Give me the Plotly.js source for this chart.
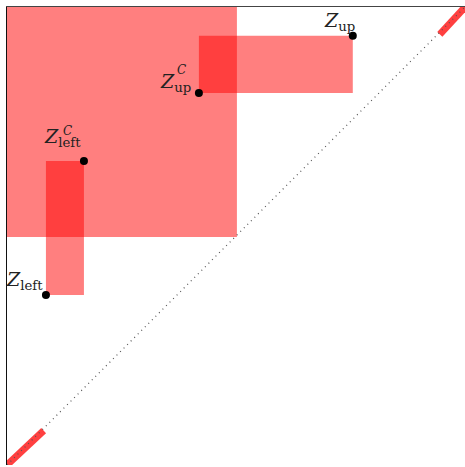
<!DOCTYPE html>
<html>
<head>
<meta charset="utf-8">
<script src="https://cdn.plot.ly/plotly-3.0.1.min.js"></script>
<style>html,body{margin:0;padding:0;background:#fff;}#chart{width:465px;height:467px;}</style>
</head>
<body>
<div id="chart"></div>
<script>
// Rectangles: [x0, x1, y0, y1]
var bigRect = [0.0, 0.502, 0.498, 1.0];
var upRect = [0.419, 0.755, 0.812, 0.937];
var leftRect = [0.085, 0.168, 0.371, 0.664];

// Labelled points
var pointX = [0.755, 0.419, 0.085, 0.168];
var pointY = [0.937, 0.812, 0.371, 0.664];
var pointMain = ["<i>Z</i><sub>up</sub>", "<i>Z</i><sub>up</sub>", "<i>Z</i><sub>left</sub>", "<i>Z</i><sub>left</sub>"];
var pointSup = ["", "<i>C</i>", "", "<i>C</i>"];

// Diagonal and highlighted diagonal segments
var diagX = [0, 1];
var diagY = [0, 1];
var segLowX = [0, 0.08];
var segLowY = [0, 0.075];
var segHighX = [0.945, 1];
var segHighY = [0.94, 1];

function rectTrace(r, col) {
  return {
    x: [r[0], r[1], r[1], r[0], r[0]],
    y: [r[2], r[2], r[3], r[3], r[2]],
    mode: 'lines', fill: 'toself', fillcolor: col,
    line: {width: 0, color: 'rgba(0,0,0,0)'}, hoverinfo: 'skip', showlegend: false
  };
}

var traces = [
  rectTrace(bigRect, 'rgba(255,0,0,0.5)'),
  rectTrace(upRect, 'rgba(255,0,0,0.5)'),
  rectTrace(leftRect, 'rgba(255,0,0,0.5)'),
  {x: segLowX, y: segLowY, mode: 'lines', line: {color: 'rgba(255,0,0,0.75)', width: 7}, showlegend: false},
  {x: segHighX, y: segHighY, mode: 'lines', line: {color: 'rgba(255,0,0,0.75)', width: 7}, showlegend: false},
  {x: diagX, y: diagY, mode: 'lines', line: {color: '#555', width: 1.2, dash: '1px,4px'}, showlegend: false},
  {x: pointX, y: pointY, mode: 'markers',
   marker: {color: 'black', size: 8}, showlegend: false, cliponaxis: false}
];

// label placement offsets (pixels) relative to each point
var mainShift = [[4, 0], [-6, -4], [-1, 0], [-1, 9]];
var supShift = [[0, 0], [-24, 14], [0, 0], [-23, 21]];

var font = {family: 'DejaVu Serif, serif', size: 19, color: '#222'};
var annotations = [];
for (var i = 0; i < pointX.length; i++) {
  annotations.push({x: pointX[i], y: pointY[i], xref: 'x', yref: 'y', text: pointMain[i],
    showarrow: false, xanchor: 'right', yanchor: 'bottom',
    xshift: mainShift[i][0], yshift: mainShift[i][1], font: font});
  if (pointSup[i]) {
    annotations.push({x: pointX[i], y: pointY[i], xref: 'x', yref: 'y', text: pointSup[i],
      showarrow: false, xanchor: 'left', yanchor: 'bottom',
      xshift: supShift[i][0], yshift: supShift[i][1],
      font: {family: font.family, size: 12, color: '#222'}});
  }
}

var layout = {
  width: 465, height: 467,
  margin: {l: 7, r: 0, t: 7, b: 2, autoexpand: false},
  paper_bgcolor: 'white', plot_bgcolor: 'white',
  showlegend: false,
  annotations: annotations,
  xaxis: {range: [0, 1], side: 'top', showline: true, linecolor: '#444', linewidth: 1.5,
          showgrid: false, zeroline: false, showticklabels: false, ticks: ''},
  yaxis: {range: [0, 1], showline: true, linecolor: '#111', linewidth: 1.5,
          showgrid: false, zeroline: false, showticklabels: false, ticks: ''}
};

Plotly.newPlot('chart', traces, layout, {displayModeBar: false, staticPlot: true});
</script>
</body>
</html>
